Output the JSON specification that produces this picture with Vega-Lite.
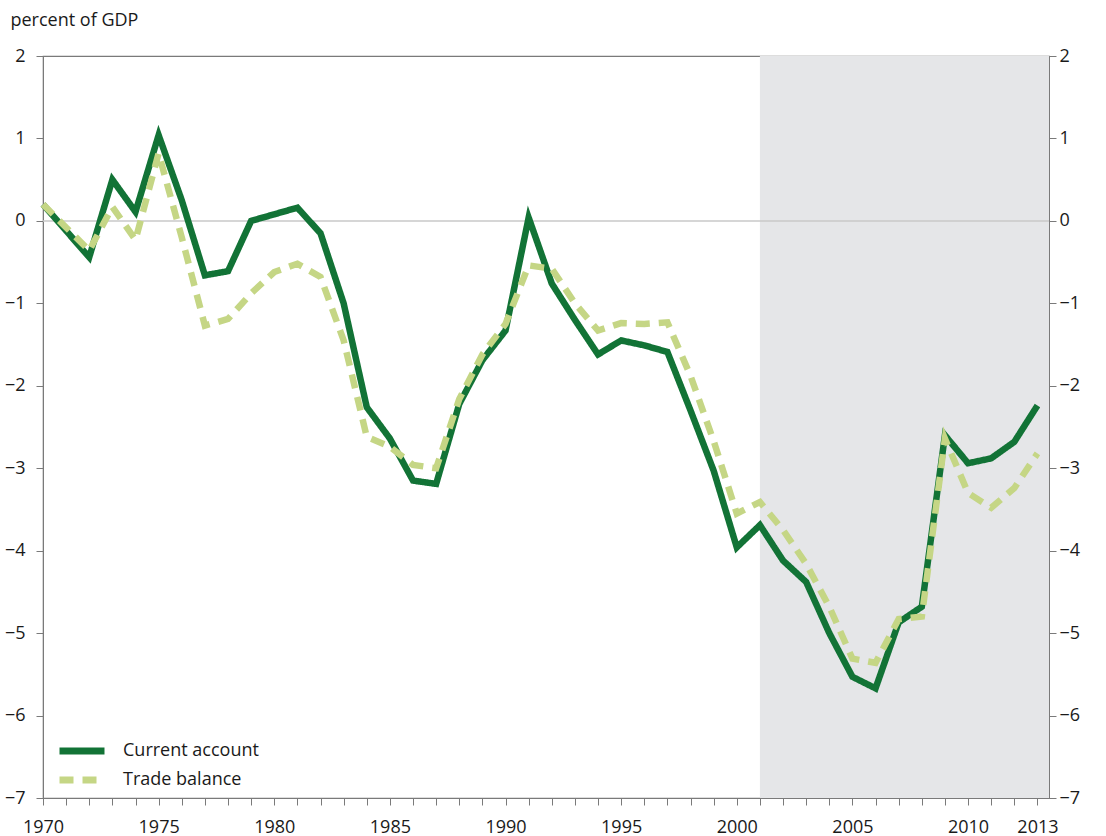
{
  "$schema": "https://vega.github.io/schema/vega-lite/v6.json",
  "width": 1006,
  "height": 742,
  "autosize": {"type": "none"},
  "padding": {"left": 43, "top": 56, "right": 57, "bottom": 38},
  "background": "white",
  "config": {
    "font": "Open Sans",
    "view": {"stroke": "#7a7a7a", "strokeWidth": 1.2},
    "axis": {
      "domainColor": "#7a7a7a",
      "tickColor": "#7a7a7a",
      "labelColor": "#1a1a1a",
      "labelFont": "Open Sans",
      "labelFontSize": 18,
      "tickSize": 7,
      "grid": false,
      "labelOverlap": false
    },
    "axisX": {
      "labelOverlap": false,
      "labelBound": false,
      "labelFlush": false
    }
  },
  "datasets": {
    "series": [
      {"year": 1970, "series": "Current account", "value": 0.2},
      {"year": 1971, "series": "Current account", "value": -0.12},
      {"year": 1972, "series": "Current account", "value": -0.44},
      {"year": 1973, "series": "Current account", "value": 0.5},
      {"year": 1974, "series": "Current account", "value": 0.11},
      {"year": 1975, "series": "Current account", "value": 1.04},
      {"year": 1976, "series": "Current account", "value": 0.25},
      {"year": 1977, "series": "Current account", "value": -0.66},
      {"year": 1978, "series": "Current account", "value": -0.61},
      {"year": 1979, "series": "Current account", "value": 0.0},
      {"year": 1980, "series": "Current account", "value": 0.08},
      {"year": 1981, "series": "Current account", "value": 0.16},
      {"year": 1982, "series": "Current account", "value": -0.15},
      {"year": 1983, "series": "Current account", "value": -1.0},
      {"year": 1984, "series": "Current account", "value": -2.26},
      {"year": 1985, "series": "Current account", "value": -2.64},
      {"year": 1986, "series": "Current account", "value": -3.15},
      {"year": 1987, "series": "Current account", "value": -3.19},
      {"year": 1988, "series": "Current account", "value": -2.22},
      {"year": 1989, "series": "Current account", "value": -1.69},
      {"year": 1990, "series": "Current account", "value": -1.33},
      {"year": 1991, "series": "Current account", "value": 0.04},
      {"year": 1992, "series": "Current account", "value": -0.76},
      {"year": 1993, "series": "Current account", "value": -1.2},
      {"year": 1994, "series": "Current account", "value": -1.62},
      {"year": 1995, "series": "Current account", "value": -1.45},
      {"year": 1996, "series": "Current account", "value": -1.51},
      {"year": 1997, "series": "Current account", "value": -1.59},
      {"year": 1998, "series": "Current account", "value": -2.3},
      {"year": 1999, "series": "Current account", "value": -3.03},
      {"year": 2000, "series": "Current account", "value": -3.96},
      {"year": 2001, "series": "Current account", "value": -3.69},
      {"year": 2002, "series": "Current account", "value": -4.12},
      {"year": 2003, "series": "Current account", "value": -4.38},
      {"year": 2004, "series": "Current account", "value": -5.0},
      {"year": 2005, "series": "Current account", "value": -5.53},
      {"year": 2006, "series": "Current account", "value": -5.67},
      {"year": 2007, "series": "Current account", "value": -4.87},
      {"year": 2008, "series": "Current account", "value": -4.68},
      {"year": 2009, "series": "Current account", "value": -2.6},
      {"year": 2010, "series": "Current account", "value": -2.94},
      {"year": 2011, "series": "Current account", "value": -2.88},
      {"year": 2012, "series": "Current account", "value": -2.68},
      {"year": 2013, "series": "Current account", "value": -2.24},
      {"year": 1970, "series": "Trade balance", "value": 0.2},
      {"year": 1971, "series": "Trade balance", "value": -0.08},
      {"year": 1972, "series": "Trade balance", "value": -0.36},
      {"year": 1973, "series": "Trade balance", "value": 0.17},
      {"year": 1974, "series": "Trade balance", "value": -0.23},
      {"year": 1975, "series": "Trade balance", "value": 0.82},
      {"year": 1976, "series": "Trade balance", "value": -0.2},
      {"year": 1977, "series": "Trade balance", "value": -1.27},
      {"year": 1978, "series": "Trade balance", "value": -1.19},
      {"year": 1979, "series": "Trade balance", "value": -0.88},
      {"year": 1980, "series": "Trade balance", "value": -0.62},
      {"year": 1981, "series": "Trade balance", "value": -0.52},
      {"year": 1982, "series": "Trade balance", "value": -0.68},
      {"year": 1983, "series": "Trade balance", "value": -1.45},
      {"year": 1984, "series": "Trade balance", "value": -2.62},
      {"year": 1985, "series": "Trade balance", "value": -2.74},
      {"year": 1986, "series": "Trade balance", "value": -2.96},
      {"year": 1987, "series": "Trade balance", "value": -3.0},
      {"year": 1988, "series": "Trade balance", "value": -2.16},
      {"year": 1989, "series": "Trade balance", "value": -1.62},
      {"year": 1990, "series": "Trade balance", "value": -1.25},
      {"year": 1991, "series": "Trade balance", "value": -0.54},
      {"year": 1992, "series": "Trade balance", "value": -0.58},
      {"year": 1993, "series": "Trade balance", "value": -1.0},
      {"year": 1994, "series": "Trade balance", "value": -1.33},
      {"year": 1995, "series": "Trade balance", "value": -1.24},
      {"year": 1996, "series": "Trade balance", "value": -1.25},
      {"year": 1997, "series": "Trade balance", "value": -1.23},
      {"year": 1998, "series": "Trade balance", "value": -1.88},
      {"year": 1999, "series": "Trade balance", "value": -2.67},
      {"year": 2000, "series": "Trade balance", "value": -3.55},
      {"year": 2001, "series": "Trade balance", "value": -3.41},
      {"year": 2002, "series": "Trade balance", "value": -3.75},
      {"year": 2003, "series": "Trade balance", "value": -4.16},
      {"year": 2004, "series": "Trade balance", "value": -4.68},
      {"year": 2005, "series": "Trade balance", "value": -5.31},
      {"year": 2006, "series": "Trade balance", "value": -5.36},
      {"year": 2007, "series": "Trade balance", "value": -4.83},
      {"year": 2008, "series": "Trade balance", "value": -4.8},
      {"year": 2009, "series": "Trade balance", "value": -2.64},
      {"year": 2010, "series": "Trade balance", "value": -3.3},
      {"year": 2011, "series": "Trade balance", "value": -3.48},
      {"year": 2012, "series": "Trade balance", "value": -3.24},
      {"year": 2013, "series": "Trade balance", "value": -2.82}
    ]
  },
  "layer": [
    {
      "data": {"values": [{"start": 2001, "end": 2013.5}]},
      "mark": {"type": "rect", "color": "#e5e6e8"},
      "encoding": {
        "x": {"field": "start", "type": "quantitative", "scale": {"domain": [1970, 2013.5], "nice": false, "zero": false},
          "axis": {
            "orient": "bottom",
            "values": [1970,1971,1972,1973,1974,1975,1976,1977,1978,1979,1980,1981,1982,1983,1984,1985,1986,1987,1988,1989,1990,1991,1992,1993,1994,1995,1996,1997,1998,1999,2000,2001,2002,2003,2004,2005,2006,2007,2008,2009,2010,2011,2012,2013],
            "labelExpr": "(datum.value % 5 == 0 || datum.value == 2013) ? format(datum.value, 'd') : ''",
            "labelOverlap": false,
            "labelPadding": 13,
            "title": null
          }},
        "x2": {"field": "end"}
      }
    },
    {
      "data": {"values": [{"zero": 0}]},
      "mark": {"type": "rule", "color": "#c8c8c8", "strokeWidth": 1.5},
      "encoding": {
        "y": {"field": "zero", "type": "quantitative", "scale": {"domain": [-7, 2], "nice": false, "zero": false}, "axis": null}
      }
    },
    {
      "data": {"name": "series"},
      "mark": {"type": "line", "strokeWidth": 6.5, "strokeJoin": "miter", "strokeCap": "butt"},
      "encoding": {
        "x": {"field": "year", "type": "quantitative",
          "axis": {
            "orient": "bottom",
            "values": [1970,1971,1972,1973,1974,1975,1976,1977,1978,1979,1980,1981,1982,1983,1984,1985,1986,1987,1988,1989,1990,1991,1992,1993,1994,1995,1996,1997,1998,1999,2000,2001,2002,2003,2004,2005,2006,2007,2008,2009,2010,2011,2012,2013],
            "labelExpr": "(datum.value % 5 == 0 || datum.value == 2013) ? format(datum.value, 'd') : ''",
            "labelOverlap": false,
            "labelPadding": 13,
            "title": null
          }},
        "y": {"field": "value", "type": "quantitative", "scale": {"domain": [-7, 2], "nice": false, "zero": false},
          "axis": {"orient": "left", "values": [-7,-6,-5,-4,-3,-2,-1,0,1,2], "labelPadding": 11,
            "title": "percent of GDP", "titleAngle": 0, "titleAlign": "left", "titleBaseline": "alphabetic",
            "titleX": -33, "titleY": -31, "titleFontSize": 18, "titleFontWeight": "normal", "titleColor": "#1a1a1a", "titleFont": "Open Sans"}},
        "color": {"field": "series", "type": "nominal",
          "scale": {"domain": ["Current account", "Trade balance"], "range": ["#127336", "#c5d685"]},
          "legend": {"title": null, "orient": "none", "legendX": 24, "legendY": 680, "symbolType": "M-2,0H2", "symbolSize": 506, "symbolStrokeWidth": 7, "labelFontSize": 18, "labelColor": "#1a1a1a", "labelOffset": 26, "rowPadding": -1, "padding": 0}},
        "strokeDash": {"field": "series", "type": "nominal",
          "scale": {"domain": ["Current account", "Trade balance"], "range": [[1, 0], [14, 9]]},
          "legend": null}
      }
    },
    {
      "data": {"name": "series"},
      "mark": {"type": "line", "opacity": 0},
      "encoding": {
        "x": {"field": "year", "type": "quantitative",
          "axis": {
            "orient": "bottom",
            "values": [1970,1971,1972,1973,1974,1975,1976,1977,1978,1979,1980,1981,1982,1983,1984,1985,1986,1987,1988,1989,1990,1991,1992,1993,1994,1995,1996,1997,1998,1999,2000,2001,2002,2003,2004,2005,2006,2007,2008,2009,2010,2011,2012,2013],
            "labelExpr": "(datum.value % 5 == 0 || datum.value == 2013) ? format(datum.value, 'd') : ''",
            "labelOverlap": false,
            "labelPadding": 13,
            "title": null
          }},
        "y": {"field": "value", "type": "quantitative",
          "axis": {"orient": "right", "values": [-7,-6,-5,-4,-3,-2,-1,0,1,2], "labelPadding": 3, "title": null}}
      }
    }
  ],
  "resolve": {"axis": {"y": "independent"}}
}
